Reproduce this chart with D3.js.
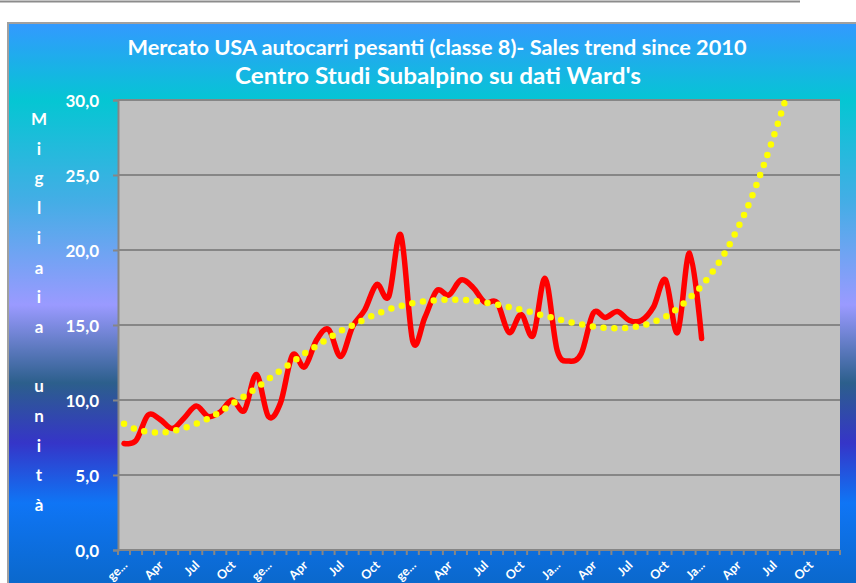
<!DOCTYPE html>
<html>
<head>
<meta charset="utf-8">
<script src="https://cdn.jsdelivr.net/npm/d3@7"></script>
<style>
body{margin:0;background:#fff;}
text{font-family:Lato,"Open Sans",sans-serif;font-weight:bold;fill:#fff;}
</style>
</head>
<body>
<svg id="graph"></svg>
<script>
// categories
var years = [2010,2011,2012,2013,2014]
var tickLabels = ["ge...","Apr","Jul","Oct","ge...","Apr","Jul","Oct","ge...","Apr","Jul","Oct",
                  "Ja...","Apr","Jul","Oct","Ja...","Apr","Jul","Oct"]
var yTicks = [0,5,10,15,20,25,30]

// monthly sales (thousands of units), Jan 2010 .. Jan 2014
var sales = [7.1,7.3,9.0,8.7,8.1,8.8,9.6,8.9,9.2,10.0,9.3,11.7,
             8.9,9.8,13.0,12.2,14.0,14.7,12.9,14.9,16.0,17.7,16.9,21.0,
             13.9,15.5,17.3,17.0,18.0,17.5,16.5,16.5,14.5,15.7,14.3,18.1,
             13.3,12.6,13.1,15.8,15.5,15.9,15.3,15.3,16.2,18.0,14.5,19.8,14.1]

// polynomial trend line as drawn (forecast forward)
var trend = [8.42,8.05,7.87,7.83,7.92,8.14,8.41,8.76,9.22,9.75,10.25,10.8,
             11.4,11.97,12.53,13.1,13.6,14.12,14.6,14.98,15.38,15.73,16.04,16.27,
             16.45,16.58,16.64,16.69,16.68,16.62,16.5,16.37,16.2,16.02,15.82,15.6,
             15.4,15.2,15.04,14.9,14.8,14.78,14.83,14.95,15.2,15.55,16.1,16.8,
             17.6,18.65,19.9,21.45,23.2,25.3,27.6,30.1]

var yAxisTitle = "Migliaia unità"
var title1 = "Mercato USA autocarri pesanti (classe 8)- Sales trend since 2010"
var title2 = "Centro Studi Subalpino su dati Ward's"

var months = []
years.forEach(function(y){
    for(var m=1;m<=12;m++){ months.push(y+"-"+m) }
})

var screen = {width:856,height:583}
var plot = {left:118,right:840,top:100,bottom:550}

var svg = d3.select("#graph")
    .attr("width",screen.width)
    .attr("height",screen.height)

// background gradient
var defs = svg.append("defs")
var grad = defs.append("linearGradient")
    .attr("id","bg")
    .attr("x1",0).attr("y1",0).attr("x2",0).attr("y2",1)
var stops = [[0,"#3399ff"],[0.13,"#05c6d3"],[0.3,"#45ade6"],[0.47,"#9a9aff"],[0.6,"#2c5f8c"],
             [0.7,"#3535c8"],[0.8,"#0f75f5"],[1,"#0862b8"]]
grad.selectAll("stop")
    .data(stops)
    .enter()
    .append("stop")
    .attr("offset",function(d){return d[0]})
    .attr("stop-color",function(d){return d[1]})

defs.append("clipPath")
    .attr("id","clip")
    .append("rect")
    .attr("x",plot.left)
    .attr("y",plot.top)
    .attr("width",plot.right-plot.left)
    .attr("height",plot.bottom-plot.top)

svg.append("line")
    .attr("x1",0).attr("x2",800)
    .attr("y1",1.5).attr("y2",1.5)
    .attr("stroke","#8c8c8c")
    .attr("stroke-width",2)

svg.append("rect")
    .attr("x",8).attr("y",23)
    .attr("width",900).attr("height",600)
    .attr("fill","url(#bg)")
    .attr("stroke","#a0a0a0")
    .attr("stroke-width",2)

var xScale = d3.scaleBand()
    .domain(months)
    .range([plot.left,plot.right])

var yScale = d3.scaleLinear()
    .domain([0,30])
    .range([plot.bottom,plot.top])

var xPos = function(d,i){ return xScale(months[i])+xScale.bandwidth()/2 }

svg.append("rect")
    .attr("x",plot.left)
    .attr("y",plot.top)
    .attr("width",plot.right-plot.left)
    .attr("height",plot.bottom-plot.top)
    .attr("fill","#c0c0c0")

// y axis with gridlines
var yAxis = svg.append("g")
    .attr("transform","translate("+plot.left+",0)")
    .call(d3.axisLeft(yScale)
        .tickValues(yTicks)
        .tickSize(5)
        .tickPadding(14)
        .tickFormat(function(d){ return d3.format(".1f")(d).replace(".",",") }))
yAxis.select(".domain").attr("stroke","#868686").attr("stroke-width",2)
yAxis.selectAll(".tick line").attr("stroke","#868686").attr("stroke-width",2)
yAxis.selectAll(".tick text")
    .style("font-size","17px")
    .attr("dy","0.38em")

svg.append("g")
    .selectAll("line")
    .data(yTicks.slice(1))
    .enter()
    .append("line")
    .attr("x1",plot.left).attr("x2",plot.right)
    .attr("y1",function(d){return yScale(d)})
    .attr("y2",function(d){return yScale(d)})
    .attr("stroke","#868686")
    .attr("stroke-width",2)

// x axis
var xAxis = svg.append("g")
    .attr("transform","translate(0,"+plot.bottom+")")
xAxis.append("line")
    .attr("x1",plot.left).attr("x2",plot.right)
    .attr("stroke","#868686")
    .attr("stroke-width",2)
var tickPos = months.map(function(m){ return xScale(m) }).concat([plot.right])
xAxis.selectAll(".xt")
    .data(tickPos)
    .enter()
    .append("line")
    .attr("class","xt")
    .attr("x1",function(d){return d}).attr("x2",function(d){return d})
    .attr("y1",0).attr("y2",5)
    .attr("stroke","#868686")
    .attr("stroke-width",2)
xAxis.selectAll("text")
    .data(tickLabels)
    .enter()
    .append("text")
    .attr("transform",function(d,i){
        var x = xScale(months[i*3])+xScale.bandwidth()/2+4
        return "translate("+x+",16) rotate(-45)"
    })
    .attr("text-anchor","end")
    .style("font-size","12.5px")
    .text(function(d){return d})

// series
var plotArea = svg.append("g").attr("clip-path","url(#clip)")

var salesLine = d3.line()
    .x(xPos)
    .y(function(d){return yScale(d)})
    .curve(d3.curveCardinal)

plotArea.append("path")
    .datum(sales)
    .attr("d",salesLine)
    .attr("fill","none")
    .attr("stroke","#ff0000")
    .attr("stroke-width",5.5)
    .attr("stroke-linejoin","round")
    .attr("stroke-linecap","round")

plotArea.append("path")
    .datum(trend)
    .attr("d",salesLine)
    .attr("fill","none")
    .attr("stroke","#ffff00")
    .attr("stroke-width",6.5)
    .attr("stroke-linecap","round")
    .attr("stroke-dasharray","0,10.8")

// titles, squeezed a little like the original narrow font
svg.append("text")
    .attr("x",437).attr("y",55)
    .attr("text-anchor","middle")
    .attr("textLength",619)
    .attr("lengthAdjust","spacingAndGlyphs")
    .style("font-size","21px")
    .text(title1)
svg.append("text")
    .attr("x",438).attr("y",84)
    .attr("text-anchor","middle")
    .attr("textLength",406)
    .attr("lengthAdjust","spacingAndGlyphs")
    .style("font-size","23px")
    .text(title2)

svg.append("g")
    .selectAll("text")
    .data(yAxisTitle.split(""))
    .enter()
    .append("text")
    .attr("x",39)
    .attr("y",function(d,i){return 125+i*29.7})
    .attr("text-anchor","middle")
    .style("font-size","17px")
    .text(function(d){return d})
</script>
</body>
</html>
